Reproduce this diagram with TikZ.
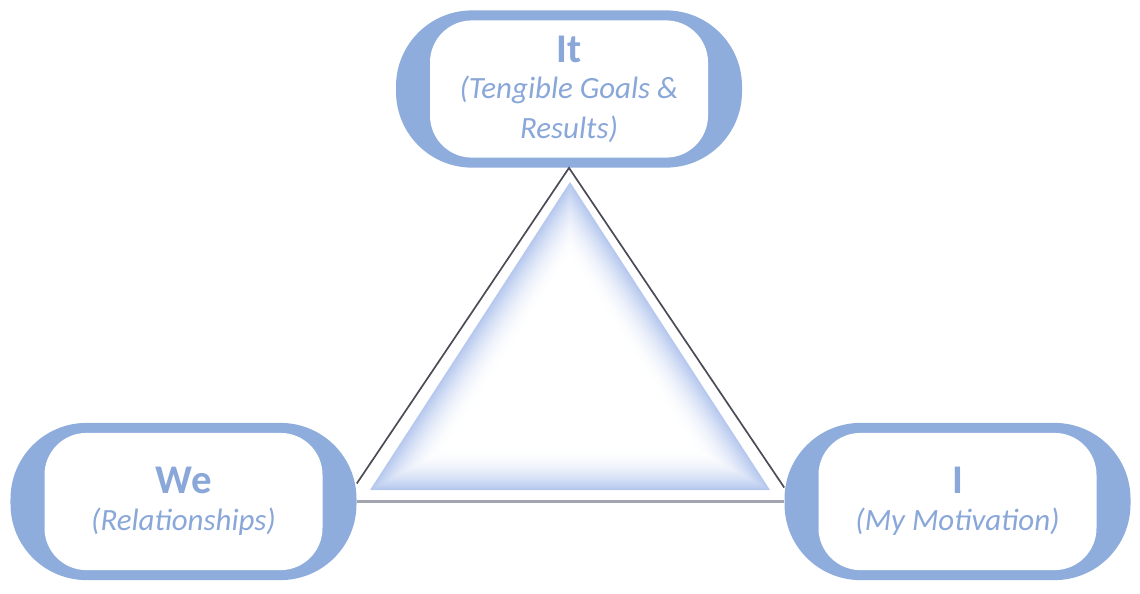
\documentclass[tikz,border=0pt]{standalone}
\usepackage{tikz}
\usepackage{xcolor}
\usepackage{fontspec}
\setmainfont{Carlito}
\usetikzlibrary{calc}

\begin{document}
\begin{tikzpicture}[boxback/.style={fill=boxblue,rounded corners=1.9cm,minimum width=8.65cm,minimum height=3.93cm},
  boxfront/.style={fill=white,rounded corners=1.05cm,minimum width=6.95cm,minimum height=3.43cm,
    align=center,text=txtblue,font=\fontsize{22}{28}\selectfont\itshape}]
\definecolor{boxblue}{HTML}{8EADDC}
\definecolor{txtblue}{HTML}{8AA7D9}
\definecolor{trishade}{HTML}{B6C8EE}
\definecolor{linedark}{HTML}{4B4B57}
\definecolor{linegray}{HTML}{A3A5AE}
\useasboundingbox (0,0) rectangle (28.5,-14.825);
\node [boxback] (itback) at (14.225,-2.225) {};
\node [boxback] (weback) at (4.5875,-12.5375) {};
\node [boxback] (iback) at (23.9375,-12.5375) {};
% triangle
\coordinate (wetop) at ($(weback.east)+(0,0.45)$);
\coordinate (itop) at ($(iback.west)+(0,0.35)$);
\draw [linedark,line width=1.2pt] (wetop) -- (itback.south) -- (itop);
\draw [linegray,line width=2pt] (weback.east) -- (iback.west);
\coordinate (ta) at (14.25,-4.55);
\coordinate (tl) at (9.25,-12.25);
\coordinate (tr) at (19.25,-12.25);
\coordinate (tc) at (14.25,-9.535);
  \foreach \k in {0,...,24}
  {  \pgfmathsetmacro\s{1-\k*0.016}
     \pgfmathsetmacro\m{100*(1-\k/24)^2}
     \fill [trishade!\m!white] ($(tc)!\s!(ta)$) -- ($(tc)!\s!(tl)$) -- ($(tc)!\s!(tr)$) -- cycle;}
% labels
\node [boxfront] (it) at (itback) {{\fontsize{29}{29}\selectfont\upshape\bfseries It}\\[-2pt](Tengible Goals \&\\Results)};
\node [boxfront] (we) at (weback) {{\fontsize{29}{29}\selectfont\upshape\bfseries We}\\[-2pt](Relationships)};
\node [boxfront] (i) at (iback) {{\fontsize{29}{29}\selectfont\upshape\bfseries I}\\[-2pt](My Motivation)};
\end{tikzpicture}
\end{document}
